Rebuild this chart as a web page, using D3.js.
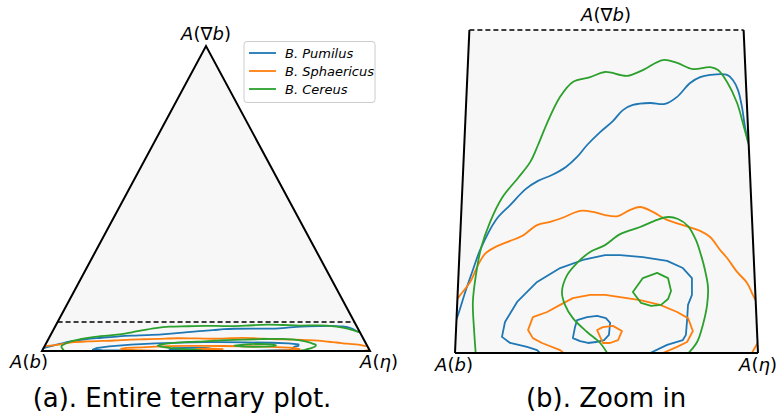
<!DOCTYPE html>
<html><head><meta charset="utf-8">
<script src="https://cdn.jsdelivr.net/npm/d3@7"></script>
<style>body{margin:0;background:#fff}svg{display:block}text{font-family:"DejaVu Sans",sans-serif}</style>
</head><body><svg id="c" width="777" height="419"></svg>
<script>
// Zoom band: A(∇b) from 0 up to H
const H = 0.095;
const species = ["B. Pumilus", "B. Sphaericus", "B. Cereus"];
const colors = ["#1f77b4", "#ff7f0e", "#2ca02c"];
// Contours: [x along base (cartesian, 0..1), height as fraction of the zoom band]
const pumilusOuter = [[-0.003,0.087],[0.010,0.118],[0.036,0.195],[0.059,0.257],[0.083,0.319],[0.135,0.412],[0.182,0.458],[0.234,0.508],[0.274,0.533],[0.320,0.551],[0.366,0.576],[0.403,0.607],[0.436,0.644],[0.479,0.684],[0.521,0.718],[0.554,0.752],[0.587,0.768],[0.644,0.774],[0.693,0.771],[0.733,0.793],[0.776,0.836],[0.809,0.854],[0.842,0.861],[0.898,0.861],[0.917,0.845],[0.934,0.814],[0.947,0.762],[0.957,0.700],[0.970,0.644]];
const pumilusMid = [[0.290,-0.009],[0.271,0.009],[0.238,0.019],[0.182,0.031],[0.155,0.050],[0.165,0.096],[0.205,0.158],[0.271,0.220],[0.347,0.263],[0.422,0.288],[0.495,0.303],[0.545,0.303],[0.620,0.297],[0.700,0.285],[0.752,0.263],[0.782,0.232],[0.782,0.180],[0.769,0.149],[0.766,0.102],[0.762,0.056],[0.752,0.040],[0.700,0.025],[0.644,0.000],[0.627,-0.012]];
const pumilusInner = [[0.396,0.080],[0.403,0.102],[0.436,0.111],[0.469,0.115],[0.498,0.108],[0.512,0.093],[0.508,0.056],[0.492,0.040],[0.465,0.034],[0.439,0.031],[0.413,0.037],[0.389,0.046]];
const sphaericusOuter = [[-0.003,0.149],[0.010,0.170],[0.050,0.220],[0.076,0.272],[0.099,0.307],[0.139,0.331],[0.182,0.347],[0.221,0.362],[0.271,0.396],[0.314,0.406],[0.353,0.418],[0.413,0.440],[0.455,0.437],[0.495,0.427],[0.538,0.424],[0.578,0.443],[0.611,0.452],[0.653,0.437],[0.700,0.412],[0.752,0.396],[0.809,0.378],[0.842,0.359],[0.875,0.319],[0.898,0.294],[0.931,0.251],[0.964,0.217],[0.983,0.180],[1.000,0.149]];
const sphaericusMid = [[0.370,-0.009],[0.347,0.009],[0.287,0.031],[0.257,0.046],[0.241,0.071],[0.257,0.111],[0.304,0.127],[0.347,0.149],[0.389,0.170],[0.446,0.180],[0.495,0.180],[0.545,0.173],[0.611,0.164],[0.677,0.149],[0.733,0.127],[0.769,0.108],[0.785,0.068],[0.766,0.034],[0.733,0.019],[0.686,0.000],[0.667,-0.012]];
const sphaericusInner = [[0.469,0.071],[0.488,0.080],[0.521,0.084],[0.551,0.068],[0.538,0.040],[0.512,0.031],[0.488,0.031],[0.479,0.050]];
const sphaericusCorner = [[0.974,-0.009],[0.997,0.028],[1.007,0.046]];
const cereusOuter = [[0.069,-0.009],[0.063,0.071],[0.059,0.158],[0.069,0.241],[0.086,0.325],[0.116,0.406],[0.155,0.480],[0.208,0.542],[0.248,0.591],[0.274,0.644],[0.304,0.712],[0.347,0.793],[0.389,0.839],[0.446,0.854],[0.495,0.870],[0.568,0.858],[0.620,0.876],[0.686,0.907],[0.733,0.898],[0.785,0.879],[0.842,0.885],[0.868,0.876],[0.898,0.839],[0.931,0.774],[0.950,0.712],[0.967,0.653]];
const cereusMid = [[0.508,-0.009],[0.479,0.031],[0.436,0.065],[0.389,0.108],[0.363,0.149],[0.353,0.189],[0.370,0.241],[0.403,0.279],[0.446,0.313],[0.495,0.334],[0.545,0.368],[0.611,0.390],[0.667,0.412],[0.703,0.421],[0.736,0.415],[0.769,0.393],[0.795,0.350],[0.812,0.303],[0.825,0.257],[0.835,0.204],[0.832,0.149],[0.818,0.087],[0.799,0.034],[0.762,-0.009]];
const cereusInner = [[0.587,0.189],[0.620,0.232],[0.667,0.248],[0.703,0.232],[0.713,0.192],[0.703,0.167],[0.680,0.149],[0.647,0.146],[0.614,0.155]];

const contours = [
  {s:0, pts:pumilusOuter, closed:false, smooth:true},
  {s:0, pts:pumilusMid, closed:false, smooth:false},
  {s:0, pts:pumilusInner, closed:true, smooth:false},
  {s:1, pts:sphaericusOuter, closed:false, smooth:true},
  {s:1, pts:sphaericusMid, closed:false, smooth:false},
  {s:1, pts:sphaericusInner, closed:true, smooth:false},
  {s:1, pts:sphaericusCorner, closed:false, smooth:false},
  {s:2, pts:cereusOuter, closed:false, smooth:true},
  {s:2, pts:cereusMid, closed:false, smooth:true},
  {s:2, pts:cereusInner, closed:true, smooth:false}
];

const svg = d3.select("#c");
const gray = "#f7f7f7";

function italicLabel(g, x, y, parts, size, anchor){
  const t = g.append("text").attr("x", x).attr("y", y).attr("font-size", size)
    .attr("text-anchor", anchor || "middle").attr("fill", "#000");
  parts.forEach(p => t.append("tspan").text(p[0]).attr("font-style", p[1] ? "italic" : "normal"));
  return t;
}
const lblB = [["A",1],["(",0],["b",1],[")",0]];
const lblE = [["A",1],["(",0],["η",1],[")",0]];
const lblG = [["A",1],["(",0],["∇",0],["b",1],[")",0]];

function drawContours(g, xs, ys){
  contours.forEach(c => {
    const curve = c.closed ? (c.smooth ? d3.curveCatmullRomClosed : d3.curveLinearClosed)
                           : (c.smooth ? d3.curveCatmullRom.alpha(0.5) : d3.curveLinear);
    const line = d3.line().x(d => xs(d[0])).y(d => ys(d[1]*H)).curve(curve);
    g.append("path").attr("d", line(c.pts)).attr("fill","none")
      .attr("stroke", colors[c.s]).attr("stroke-width", 1.8).attr("stroke-linejoin","round");
  });
}

// ---------- Left: entire ternary plot ----------
const xL = d3.scaleLinear().domain([0,1]).range([42,370]);
const yL = d3.scaleLinear().domain([0,1]).range([351,46]);
const tri = [[0,0],[1,0],[0.5,1]];
const gL = svg.append("g");
const triPath = d3.line().x(d => xL(d[0])).y(d => yL(d[1])).curve(d3.curveLinearClosed);
svg.append("clipPath").attr("id","clipL").append("path").attr("d", triPath(tri));
gL.append("path").attr("d", triPath(tri)).attr("fill", gray);
gL.append("line").attr("x1", xL(H/2)).attr("x2", xL(1-H/2)).attr("y1", yL(H)).attr("y2", yL(H))
  .attr("stroke","#000").attr("stroke-width",1.5).attr("stroke-dasharray","5,3");
const cL = gL.append("g").attr("clip-path","url(#clipL)");
drawContours(cL, xL, yL);
gL.append("path").attr("d", triPath(tri)).attr("fill","none").attr("stroke","#000").attr("stroke-width",2).attr("stroke-linejoin","miter");

italicLabel(gL, 206, 40, lblG, 18);
italicLabel(gL, 29, 368, lblB, 18);
italicLabel(gL, 379, 368, lblE, 18);

// legend
const lg = gL.append("g");
lg.append("rect").attr("x",244).attr("y",41.5).attr("width",131).attr("height",61).attr("rx",3)
  .attr("fill","#fff").attr("fill-opacity",0.8).attr("stroke","#ccc").attr("stroke-width",1);
species.forEach((s,i) => {
  const y = 53 + i*18;
  lg.append("line").attr("x1",249).attr("x2",276).attr("y1",y).attr("y2",y)
    .attr("stroke",colors[i]).attr("stroke-width",1.8);
  lg.append("text").attr("x",285).attr("y",y+4.5).attr("font-size",13).attr("font-style","italic").text(s);
});

gL.append("text").attr("x",182).attr("y",407).attr("text-anchor","middle").attr("font-size",26).text("(a). Entire ternary plot.");

// ---------- Right: zoom ----------
const xR = d3.scaleLinear().domain([0,1]).range([455,758]);
const yR = d3.scaleLinear().domain([0,H]).range([353,30]);
const trap = [[0,0],[1,0],[1-H/2,H],[H/2,H]];
const gR = svg.append("g");
const trapPath = d3.line().x(d => xR(d[0])).y(d => yR(d[1])).curve(d3.curveLinearClosed);
svg.append("clipPath").attr("id","clipR").append("path").attr("d", trapPath(trap));
gR.append("path").attr("d", trapPath(trap)).attr("fill", gray);
const cR = gR.append("g").attr("clip-path","url(#clipR)");
drawContours(cR, xR, yR);
const seg = (a,b,dash) => gR.append("line").attr("x1",xR(a[0])).attr("y1",yR(a[1])).attr("x2",xR(b[0])).attr("y2",yR(b[1]))
  .attr("stroke","#000").attr("stroke-width", dash ? 1.5 : 2).attr("stroke-dasharray", dash ? "5,3" : null);
seg(trap[0], trap[1], false);
seg(trap[1], trap[2], false);
seg(trap[3], trap[0], false);
seg(trap[3], trap[2], true);

italicLabel(gR, 606, 21, lblG, 18);
italicLabel(gR, 454, 371, lblB, 18);
italicLabel(gR, 758, 371, lblE, 18);
gR.append("text").attr("x",606).attr("y",407).attr("text-anchor","middle").attr("font-size",26).text("(b). Zoom in");
</script></body></html>
